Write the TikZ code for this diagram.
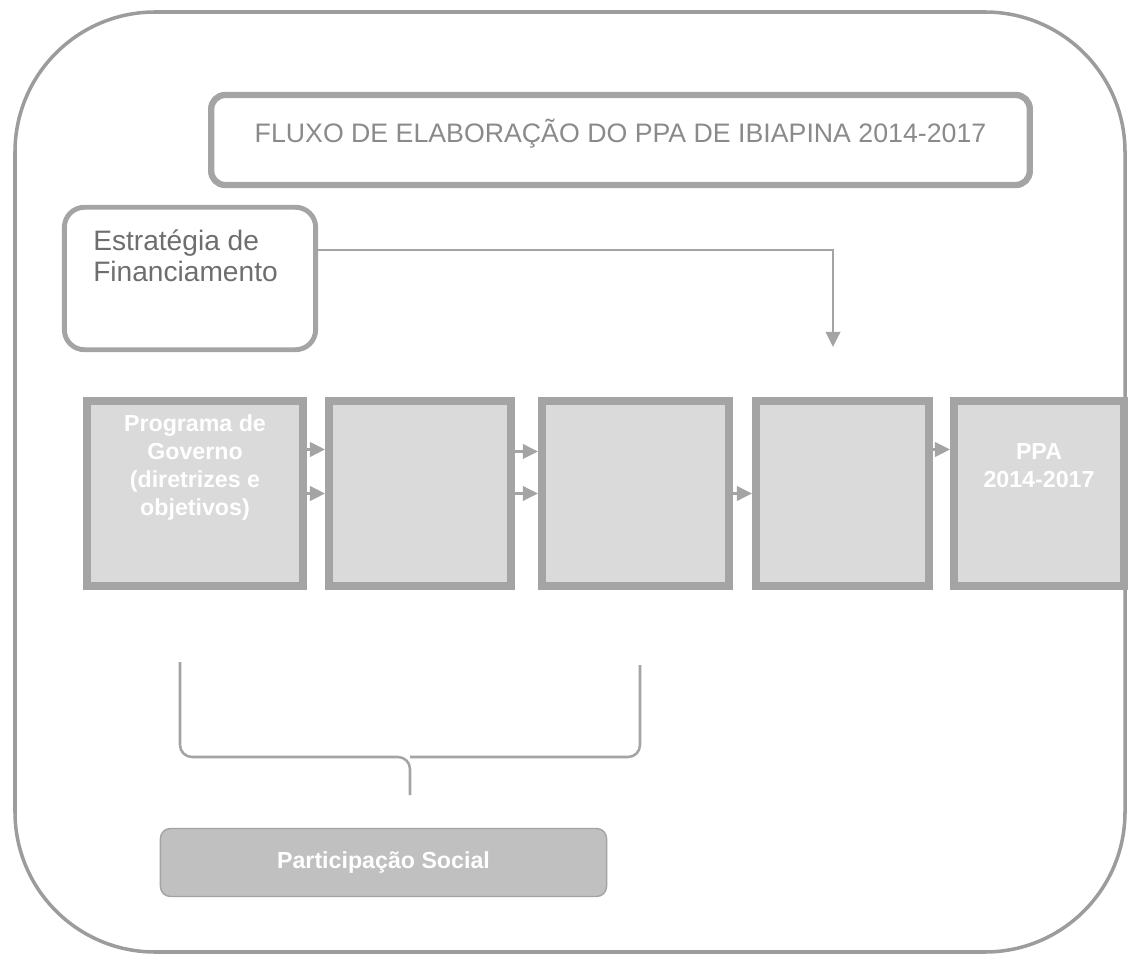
\documentclass[tikz,border=0pt]{standalone}
\usepackage{fontspec}
\setmainfont{Liberation Sans}
\usetikzlibrary{arrows.meta,positioning}
\definecolor{frameg}{HTML}{9C9C9C}
\definecolor{edgeg}{HTML}{A4A4A4}
\definecolor{fillg}{HTML}{DADADA}
\definecolor{textg}{HTML}{8A8A8A}
\definecolor{partg}{HTML}{C0C0C0}
\tikzset{
	titlebox/.style={draw=edgeg, line width=4.5pt, rounded corners=0.35cm, inner sep=0pt,
		minimum width=20.46cm, text height=1.2cm, text depth=1.05cm, text=textg,
		font=\fontsize{19}{22}\selectfont},
	stratbox/.style={draw=edgeg, line width=3.5pt, rounded corners=0.5cm, inner sep=0pt,
		minimum width=6.28cm, minimum height=3.56cm},
	strattext/.style={text=textg!80!black, align=left, inner sep=0pt,
		font=\fontsize{20}{21.5}\selectfont},
	stepbox/.style={draw=edgeg, fill=fillg, line width=5.5pt, inner sep=0pt, minimum height=4.63cm},
	boxtext/.style={text=white, align=center, inner sep=0pt, font=\fontsize{16.5}{20}\selectfont\bfseries},
	feed/.style={draw=edgeg, line width=2pt, -{Triangle[length=0.38cm,width=0.36cm]}},
	brace/.style={draw=edgeg, line width=1.8pt, rounded corners=0.3cm},
	partbox/.style={draw=partg!85!black, fill=partg, line width=1pt, rounded corners=0.25cm,
		minimum width=11.15cm, minimum height=1.7cm, text=white, font=\fontsize{16.5}{20}\selectfont\bfseries}
}

\begin{document}
\begin{tikzpicture}[x=0.025cm, y=-0.025cm]
	%%%%% START %%%%%
	\useasboundingbox (0,0) rectangle (1131,964);
	\draw[frameg, line width=2.5pt, rounded corners=3.5cm] (15,12) rectangle (1125,952);
	
	\node[titlebox] (title) at (620.5,140) {FLUXO DE ELABORAÇÃO DO PPA DE IBIAPINA 2014-2017};
	
	\node[stratbox] (strat) at (190,278.5) {};
	\node[strattext, anchor=north west] (strattxt) at (93,230) {Estratégia de\\Financiamento};
	
	% the five steps
	\node[stepbox, minimum width=5.4cm,
		label={[boxtext, yshift=0.65cm]center:{Programa de\\Governo\\(diretrizes e\\objetivos)}}] (prog) at (195,493.5) {};
	\node[stepbox, minimum width=4.55cm] (etapa2) at (420,493.5) {};
	\node[stepbox, minimum width=4.68cm] (etapa3) at (635.5,493.5) {};
	\node[stepbox, minimum width=4.33cm] (etapa4) at (842.5,493.5) {};
	\node[stepbox, minimum width=4.25cm,
		label={[boxtext, yshift=0.7cm]center:{PPA\\2014-2017}}] (ppa) at (1039,493.5) {};
	
	\draw[feed] ([yshift=1.1cm]prog.east) -- ([yshift=1.1cm]etapa2.west);
	\draw[feed] (prog.east) -- (etapa2.west);
	\draw[feed] ([yshift=1.05cm]etapa2.east) -- ([yshift=1.05cm]etapa3.west);
	\draw[feed] (etapa2.east) -- (etapa3.west);
	\draw[feed] (etapa3.east) -- (etapa4.west);
	\draw[feed] ([yshift=1.1cm]etapa4.east) -- ([yshift=1.1cm]ppa.west);
	
	% financing feeds the fourth step
	\coordinate (feedrow) at (0,250);
	\coordinate (feedend) at (833,347);
	\draw[feed] (strat.east |- feedrow) -| (feedend);
	
	% brace under the first three steps
	\draw[brace] (180,662) -- (180,757) -- (410,757) -- (410,795);
	\draw[brace] (640,665) -- (640,757) -- (410,757);
	
	\node[partbox] (social) at (383.5,862.5) {Participação Social};
	%%%%% END %%%%%
\end{tikzpicture}
\end{document}
